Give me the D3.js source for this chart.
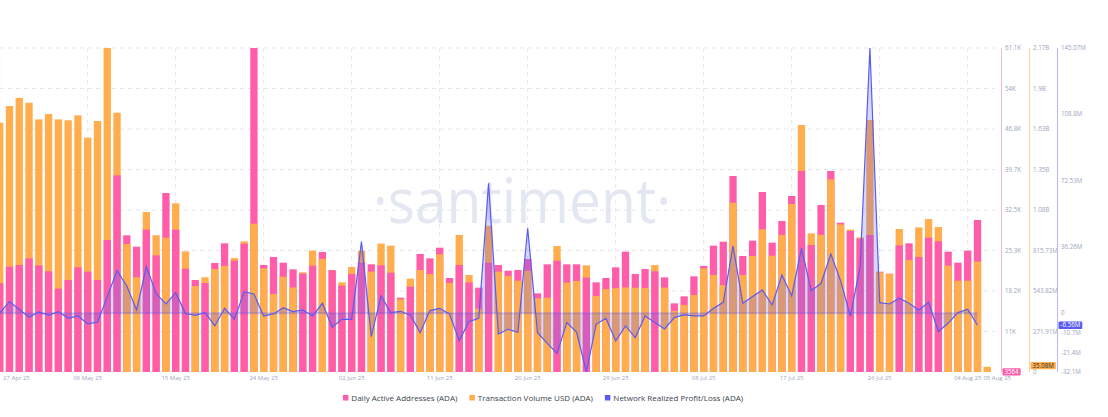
<!DOCTYPE html>
<html>
<head>
<meta charset="utf-8">
<script src="https://cdn.jsdelivr.net/npm/d3@7"></script>
<style>
    body { margin: 0; background: #fff; }
    svg { display: block; font-family: "Open Sans", "Liberation Sans", sans-serif; }
</style>
</head>
<body>
<div id="chart"></div>
<script>
// one value per day, starting 27 Apr 2025
const startDate = '2025-04-27';

const dailyActive = [
    19310, 22268, 22564, 23748, 22505, 21439, 18362, 19900, 22150, 21380,
    19900, 27003, 38486, 27832, 25819, 28838, 24281, 35349, 28838, 21913,
    19900, 19368, 22919, 26411, 23333, 26352, 61100, 22564, 23985, 22978,
    21795, 21025, 22446, 24872, 21617, 18894, 20966, 22978, 22682, 22505,
    21203, 16763, 18717, 24517, 23748, 25642, 20256, 22564, 19486, 18539,
    22978, 22564, 21558, 21676, 23629, 17533, 22682, 23333, 22682, 22682,
    20315, 19486, 20256, 22150, 24932, 20966, 21854, 21439, 20374, 15757,
    17000, 20552, 22386, 25997, 26707, 38368, 24162, 26885, 35527, 26530,
    30377, 34816, 39256, 26115, 33218, 39256, 30081, 28601, 27240, 27891,
    21380, 21025, 26056, 26411, 23985, 27418, 26766, 24932, 22978, 25110,
    30554, 3564
];

// transaction volume, millions USD
const txVolume = [
    1674, 1786, 1840, 1808, 1696, 1732, 1696, 1690, 1723, 1573,
    1685, 2175.28, 1741, 859, 636, 1074, 918, 902, 1132, 810,
    577, 636, 692, 712, 765, 877, 996, 696, 524, 640,
    568, 669, 815, 759, 685, 602, 705, 815, 674, 862,
    848, 488, 627, 685, 658, 790, 598, 920, 651, 425,
    982, 674, 645, 613, 680, 495, 499, 846, 600, 611,
    716, 510, 557, 563, 568, 566, 565, 718, 567, 410,
    450, 517, 696, 651, 584, 1137, 651, 779, 958, 781,
    920, 1128, 1658, 931, 920, 1294, 991, 956, 904, 1692,
    669, 658, 960, 752, 971, 1027, 973, 714, 613, 613,
    741, 35.08
];

// network realized profit/loss, millions
const realizedPL = [
    0.2, 6.38, 2.19, -2.19, 0.73, -1.09, 0.91, -2.73, -1.46, -5.83,
    -4.92, 9.12, 23.33, 14.95, 1.82, 25.52, 10.94, 5.10, 11.30, -0.1,
    -1.09, 0.36, -6.93, 2.73, -3.28, 11.85, 10.57, -1.46, -0.36, 3.10,
    0.91, 1.82, -1.46, 5.47, -7.66, -3.28, -3.28, 39.19, -12.76, 9.48,
    0.36, 1.09, -1.09, -10.57, 1.46, 2.73, -0.36, -14.95, -4.56, -2.73,
    71.10, -11.30, -8.75, -10.39, 46.49, -10.57, -16.41, -21.88, -5.10, -10.39,
    -32.1, -6.02, -2.73, -15.13, -6.93, -13.31, -1.46, -5.10, -8.57, -2.37,
    -0.91, -1.46, -1.46, 2.73, 6.02, 36.82, 5.47, 9.12, 12.76, 4.56,
    20.96, 9.48, 35.55, 12.40, 16.41, 32.45, 17.87, -1.46, 25.52, 145.07,
    5.83, 5.10, 8.20, 5.47, 1.82, 6.02, -10.03, -5.47, 0.4, 2.19,
    -6.56
];

const pinkTickLabels = ['', '11K', '18.2K', '25.3K', '32.5K', '39.7K', '46.8K', '54K', '61.1K'];
const orangeTickLabels = ['0', '271.91M', '543.82M', '815.73M', '1.08B', '1.35B', '1.63B', '1.9B', '2.17B'];
const blueTickValues = [-32.1, -21.4, -10.7, 0, 36.26, 72.53, 108.8, 145.07];
const blueTickLabels = ['-32.1M', '-21.4M', '-10.7M', '0', '36.26M', '72.53M', '108.8M', '145.07M'];
const endLabel = '05 Aug 25';

const seriesNames = [
    'Daily Active Addresses (ADA)',
    'Transaction Volume USD (ADA)',
    'Network Realized Profit/Loss (ADA)'
];

const PINK = '#ff5ca9';
const ORANGE = '#ffad4d';
const BLUE = '#5b5bf2';

class SantimentChartD3 {
    constructor(container) {
        this.container = container;
        this.svg = null;
    }

    create({ size }) {
        const { width, height } = size;
        this.width = width;
        this.height = height;
        this.top = 48;
        this.bottom = 372;
        this.plotRight = 1001;

        this.svg = d3.select(this.container)
            .append('svg')
            .attr('width', width)
            .attr('height', height);

        this.svg.append('defs').append('clipPath')
            .attr('id', 'plot-clip')
            .append('rect')
            .attr('x', 0).attr('y', 0)
            .attr('width', this.plotRight).attr('height', this.bottom);
    }

    update() {
        const svg = this.svg;
        const top = this.top, bottom = this.bottom;
        const t0 = d3.utcParse('%Y-%m-%d')(startDate);
        const dates = d3.utcDay.range(t0, d3.utcDay.offset(t0, dailyActive.length));

        // daily spacing taken from the gridline spacing of the picture
        const x = d3.scaleUtc()
            .domain([dates[0], dates[99]])
            .range([-0.3, 967.7]);

        const yPink = d3.scaleLinear().domain([3564, 61100]).range([bottom, top]);
        const yOrange = d3.scaleLinear().domain([0, 2175.28]).range([bottom, top]);
        const yBlue = d3.scaleLinear().domain([-32.1, 145.07]).range([bottom, top]);

        // grid
        const grid = svg.append('g');
        const pinkTicks = d3.range(9).map(k => 3564 + k * (61100 - 3564) / 8);
        grid.selectAll('line.h')
            .data(pinkTicks.slice(1))
            .enter()
            .append('line')
            .attr('x1', 0).attr('x2', this.plotRight - 6)
            .attr('y1', d => yPink(d)).attr('y2', d => yPink(d))
            .attr('stroke', '#e4e7ee')
            .attr('stroke-dasharray', '4,4');

        const xTicks = dates.filter((d, i) => i % 9 === 0 && i <= 99);
        grid.selectAll('line.v')
            .data(xTicks)
            .enter()
            .append('line')
            .attr('x1', d => x(d)).attr('x2', d => x(d))
            .attr('y1', top).attr('y2', bottom)
            .attr('stroke', '#e4e7ee')
            .attr('stroke-dasharray', '4,4');

        // watermark
        svg.append('text')
            .attr('transform', 'translate(522,223) scale(1,1.1)')
            .attr('text-anchor', 'middle')
            .style('font-size', '57px')
            .style('font-weight', 500)
            .style('fill', '#e3e7f2')
            .text('·santiment·');

        const plot = svg.append('g').attr('clip-path', 'url(#plot-clip)');

        // bars: for each day the taller bar goes behind, the shorter one in front
        const barWidth = 7.3;
        const barData = dates.flatMap((d, i) => {
            const pair = [
                { date: d, y: yPink(dailyActive[i]), color: PINK },
                { date: d, y: yOrange(txVolume[i]), color: ORANGE }
            ];
            return pair.sort((a, b) => a.y - b.y);
        });

        plot.selectAll('rect.bar')
            .data(barData)
            .enter()
            .append('rect')
            .attr('class', 'bar')
            .attr('x', d => x(d.date) - barWidth / 2)
            .attr('y', d => d.y)
            .attr('width', barWidth)
            .attr('height', d => Math.max(0, bottom - d.y))
            .attr('fill', d => d.color);

        // realized profit/loss
        const plData = realizedPL.map((v, i) => ({ date: dates[i], value: v }));
        const area = d3.area()
            .x(d => x(d.date))
            .y0(yBlue(0))
            .y1(d => yBlue(d.value));
        const line = d3.line()
            .x(d => x(d.date))
            .y(d => yBlue(d.value));

        plot.append('path')
            .datum(plData)
            .attr('d', area)
            .attr('fill', BLUE)
            .attr('fill-opacity', 0.24);

        plot.append('line')
            .attr('x1', x(plData[0].date))
            .attr('x2', x(plData[plData.length - 1].date))
            .attr('y1', yBlue(0)).attr('y2', yBlue(0))
            .attr('stroke', BLUE)
            .attr('stroke-opacity', 0.3)
            .attr('stroke-width', 2);

        plot.append('path')
            .datum(plData)
            .attr('d', line)
            .attr('fill', 'none')
            .attr('stroke', BLUE)
            .attr('stroke-width', 1.2);

        // x axis labels
        const fmt = d3.utcFormat('%d %b %y');
        const xLabels = svg.append('g')
            .style('font-size', '6px')
            .style('fill', '#9aa4bd');
        xLabels.selectAll('text')
            .data(xTicks)
            .enter()
            .append('text')
            .attr('x', d => Math.max(3, x(d)))
            .attr('y', 380)
            .attr('text-anchor', d => x(d) < 14 ? 'start' : 'middle')
            .text(fmt);
        xLabels.append('text')
            .attr('x', 1011)
            .attr('y', 380)
            .attr('text-anchor', 'end')
            .text(endLabel);

        // right axes
        const axisFont = '6.2px';
        const axes = [
            { x: 1001.5, color: '#ffb3d3', ticks: pinkTicks.map(v => yPink(v)), labels: pinkTickLabels },
            { x: 1029.5, color: '#ffd3a3', ticks: d3.range(9).map(k => yOrange(k * 271.91)), labels: orangeTickLabels },
            { x: 1057.5, color: '#b7b7fb', ticks: blueTickValues.map(v => yBlue(v)), labels: blueTickLabels }
        ];
        axes.forEach(a => {
            const g = svg.append('g');
            g.append('line')
                .attr('x1', a.x).attr('x2', a.x)
                .attr('y1', top).attr('y2', bottom)
                .attr('stroke', a.color)
                .attr('stroke-width', 1);
            g.selectAll('text')
                .data(a.ticks)
                .enter()
                .append('text')
                .attr('x', a.x + 3.5)
                .attr('y', d => d)
                .attr('dy', '0.35em')
                .style('font-size', axisFont)
                .style('fill', '#9aa4bd')
                .text((d, i) => a.labels[i]);
        });

        // last value badges
        const last = dailyActive.length - 1;
        const badges = [
            { x: 1002.5, y: yPink(dailyActive[last]), fill: PINK, color: '#fff', text: d3.format('d')(dailyActive[last]) },
            { x: 1030.5, y: yOrange(txVolume[last]) - 1, fill: ORANGE, color: '#2b2b2b', text: txVolume[last].toFixed(2) + 'M' },
            { x: 1058.5, y: yBlue(realizedPL[realizedPL.length - 1]), fill: BLUE, color: '#fff', text: realizedPL[realizedPL.length - 1].toFixed(2) + 'M' }
        ];
        badges.forEach(b => {
            const g = svg.append('g');
            const t = g.append('text')
                .attr('x', b.x + 2)
                .attr('y', b.y)
                .attr('dy', '0.35em')
                .style('font-size', axisFont)
                .style('fill', b.color)
                .text(b.text);
            const w = t.node().getComputedTextLength();
            g.insert('rect', 'text')
                .attr('x', b.x)
                .attr('y', b.y - 3.8)
                .attr('width', w + 4)
                .attr('height', 7.4)
                .attr('rx', 1)
                .attr('fill', b.fill);
        });

        // legend
        const legend = svg.append('g').style('font-size', '8px');
        const colors = [PINK, ORANGE, BLUE];
        let offset = 0;
        seriesNames.forEach((name, i) => {
            const item = legend.append('g').attr('transform', `translate(${offset},0)`);
            item.append('rect')
                .attr('x', 0).attr('y', -3)
                .attr('width', 5.5).attr('height', 5.5)
                .attr('fill', colors[i]);
            const t = item.append('text')
                .attr('x', 8.5)
                .attr('y', 0)
                .attr('dy', '0.35em')
                .style('fill', '#3b3f4c')
                .text(name);
            offset += 8.5 + t.node().getComputedTextLength() + 12;
        });
        const legendWidth = offset - 12;
        legend.attr('transform', `translate(${543 - legendWidth / 2},398)`);
    }
}

const chart = new SantimentChartD3(document.getElementById('chart'));
chart.create({ size: { width: 1108, height: 417 } });
chart.update();
</script>
</body>
</html>
